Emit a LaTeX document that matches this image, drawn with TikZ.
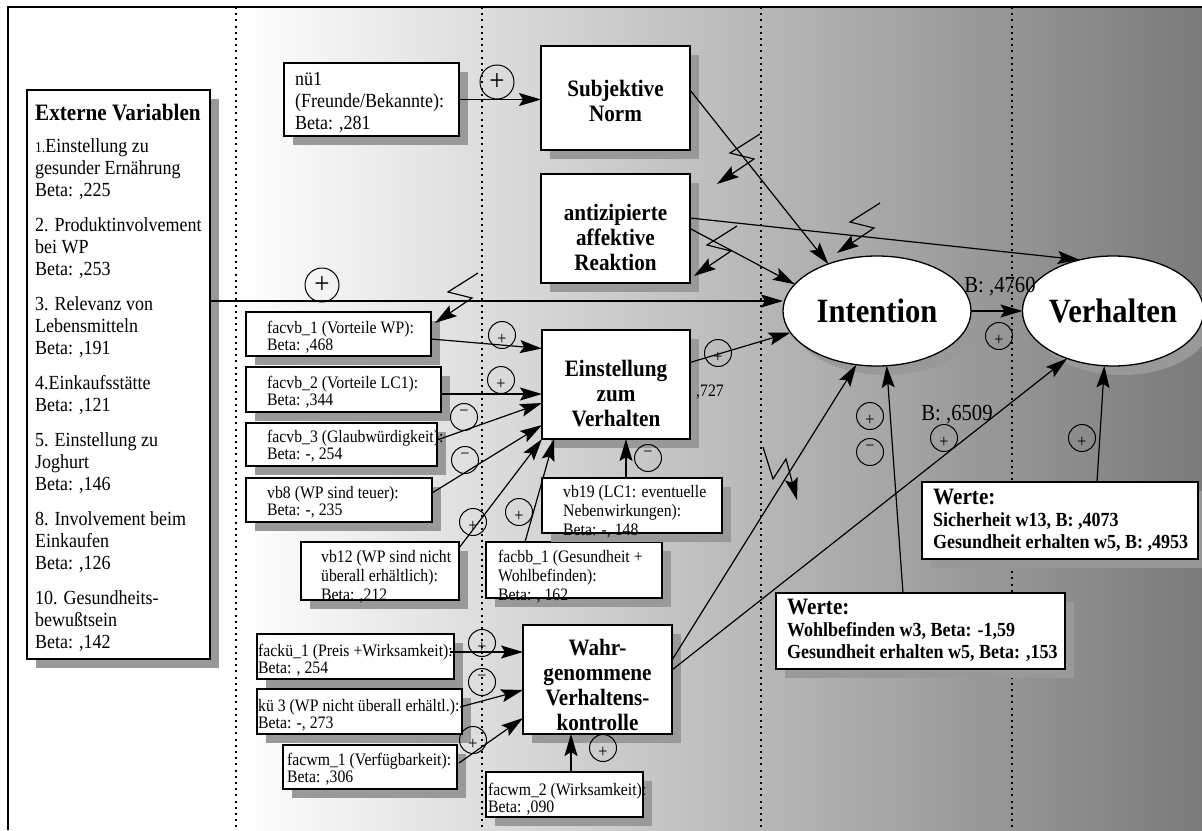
\documentclass[tikz,border=0pt]{standalone}
\usepackage{fontspec}
\setmainfont{Liberation Serif}[FakeStretch=0.9]
\usetikzlibrary{arrows.meta, shapes.geometric, shadows}

\newcommand{\smalltxt}{\fontsize{17.5}{17}\selectfont}
\newcommand{\midtxt}{\fontsize{17.5}{19}\selectfont}
\newcommand{\bodytxt}{\fontsize{20}{22}\selectfont}
\newcommand{\titletxt}{\fontsize{23.5}{25}\selectfont\bfseries}
\newcommand{\bigtxt}{\fontsize{34}{36}\selectfont\bfseries}

\begin{document}
\begin{tikzpicture}[x=1pt, y=-1pt,
	box/.style={draw, fill=white, line width=1.3pt, inner sep=0pt, outer sep=0pt,
		drop shadow={shadow xshift=9pt, shadow yshift=-9pt, fill=black!40, opacity=1}},
	ell/.style={box, ellipse, font=\bigtxt},
	lbl/.style={anchor=west, align=left, inner sep=0pt, font=\smalltxt},
	ttl/.style={align=center, inner sep=0pt, font=\titletxt},
	arr/.style={-{Stealth[length=22pt, width=13pt, inset=4pt]}, line width=1.2pt},
	sep/.style={line width=2pt, dash pattern=on 2pt off 4.2pt},
	sgn/.style={circle, draw, line width=1pt, minimum size=27pt, inner sep=0pt, font=\fontsize{18}{18}\selectfont},
	pl/.style={sgn, text height=19pt, text depth=0pt, node contents={+}},
	mi/.style={sgn, text height=0pt, text depth=1pt, node contents={−}},
	bigsgn/.style={circle, draw, line width=1pt, minimum size=34pt, inner sep=0pt, font=\fontsize{30}{30}\selectfont}]

	\useasboundingbox (0,0) rectangle (1202,830);
	
	% background and frame
	\shade[left color=white, right color=black!52] (236,7) rectangle (1202,830);
	\draw[line width=1.5pt] (8,830) -- (8,7) -- (1202,7);
	\foreach \x in {236,482,761,1012}
		\draw[sep] (\x,7) -- (\x,830);
	
	% boxes
	\foreach \nm/\xa/\ya/\xb/\yb in {ext/27/90/210/659, nue/284/63/459/136,
		norm/541/46/690/150, anti/541/174/690/283, einst/542/330/690/439,
		wahr/523/625/672/734, fvb1/246/312/431/356, fvb2/246/367/441/412,
		fvb3/246/423/437/466, vb8/246/478/432/522, vb12/301/542/459/600,
		fbb1/486/542/662/598, vb19/542/478/722/533, fku1/257/634/454/679,
		ku3/257/689/462/734, fwm1/283/745/457/789, fwm2/486/772/643/817,
		werte1/776/593/1065/669, werte2/922/482/1198/559}
	{
		\node[box, minimum width={\xb-\xa}, minimum height={\yb-\ya}] (\nm)
			at ({(\xa+\xb)/2},{(\ya+\yb)/2}) {};
	}
	
	\node[anchor=north west, align=left, inner sep=0pt, font=\bodytxt] (extt) at (35,104)
		{{\titletxt Externe Variablen}\\[9.6pt]
		{\fontsize{15}{22}\selectfont 1.}Einstellung zu\\gesunder Ernährung\\Beta: ,225\\[13pt]
		2. Produktinvolvement\\bei WP\\Beta: ,253\\[13pt]
		3. Relevanz von\\Lebensmitteln\\Beta: ,191\\[13pt]
		4.Einkaufsstätte\\Beta: ,121\\[13pt]
		5. Einstellung zu\\Joghurt\\Beta: ,146\\[13pt]
		8. Involvement beim\\Einkaufen\\Beta: ,126\\[13pt]
		10. Gesundheits-\\bewußtsein\\Beta: ,142};
	
	\node[lbl, font=\bodytxt] (nuet) at (295,102) {nü1\\(Freunde/Bekannte):\\Beta: ,281};
	\node[ttl] (normt) at (615.5,100.5) {Subjektive\\Norm};
	\node[ttl] (antit) at (615.5,237.5) {antizipierte\\affektive\\Reaktion};
	\node[ttl] (einstt) at (616,394) {Einstellung\\zum\\Verhalten};
	\node[ttl] (wahrt) at (597.5,684.5) {Wahr-\\genommene\\Verhaltens-\\kontrolle};
	
	\node[lbl] (fvb1t) at (267,337.5) {facvb\_1 (Vorteile WP):\\Beta: ,468};
	\node[lbl] (fvb2t) at (267,392.5) {facvb\_2 (Vorteile LC1):\\Beta: ,344};
	\node[lbl] (fvb3t) at (267,446.5) {facvb\_3 (Glaubwürdigkeit):\\Beta: -, 254};
	\node[lbl] (vb8t) at (267,502.5) {vb8 (WP sind teuer):\\Beta: -, 235};
	\node[lbl, font=\midtxt] (vb12t) at (321,577) {vb12 (WP sind nicht\\überall erhältlich):\\Beta: ,212};
	\node[lbl, font=\midtxt] (fbb1t) at (498,577) {facbb\_1 (Gesundheit +\\Wohlbefinden):\\Beta: , 162};
	\node[lbl, font=\midtxt] (vb19t) at (563,511.5) {vb19 (LC1: eventuelle\\Nebenwirkungen):\\Beta: -, 148};
	\node[lbl] (fku1t) at (258,660.5) {fackü\_1 (Preis +Wirksamkeit):\\Beta: , 254};
	\node[lbl] (ku3t) at (258,715.5) {kü 3 (WP nicht überall erhältl.):\\Beta: -, 273};
	\node[lbl] (fwm1t) at (287,769.5) {facwm\_1 (Verfügbarkeit):\\Beta: ,306};
	\node[lbl] (fwm2t) at (488,799) {facwm\_2 (Wirksamkeit):\\Beta: ,090};
	
	\node[lbl, font=\bodytxt\bfseries] (werte1t) at (787,630.5)
		{{\fontsize{23.5}{22}\selectfont Werte:}\\Wohlbefinden w3, Beta: -1,59\\Gesundheit erhalten w5, Beta: ,153};
	\node[lbl, font=\bodytxt\bfseries] (werte2t) at (933,520)
		{{\fontsize{23.5}{22}\selectfont Werte:}\\Sicherheit w13, B: ,4073\\Gesundheit erhalten w5, B: ,4953};
	
	\node[ell, minimum width=188pt, minimum height=110pt] (int) at (877,311) {Intention};
	\node[ell, minimum width=162pt, minimum height=110pt] (verh) at (1113,311) {Verhalten};
	
	% connectors
	\draw[arr] (ext.east |- 0,301) -- (int.west |- 0,301);
	\draw[arr] (nue.east) -- (nue.east -| norm.west);
	\draw[arr] ([shift={(0,-8)}]norm.east) -- (int.136);
	\draw[arr] ([shift={(0,-10.5)}]anti.east) -- (verh.123);
	\draw[arr] (anti.east) -- (int.162);
	\draw[arr] ([shift={(0,-22)}]einst.east) -- (int.194);
	\draw[arr] (int.east) -- (verh.west);
	\draw[arr] ([shift={(0,5)}]fvb1.east) -- ([shift={(0,-36)}]einst.west);
	\draw[arr] ([shift={(0,4.5)}]fvb2.east) -- ([shift={(0,9.5)}]einst.west);
	\draw[arr] ([shift={(0,-4.5)}]fvb3.east) -- ([shift={(0,18.5)}]einst.west);
	\draw[arr] ([shift={(0,-7)}]vb8.east) -- ([shift={(0,40.5)}]einst.west);
	\draw[arr] ([shift={(0,6)}]vb12.north east) -- (einst.south west);
	\draw[arr] ([shift={(39,0)}]fbb1.north west) -- ([shift={(12,0)}]einst.south west);
	\draw[arr] ([shift={(-6,0)}]vb19.north) -- ([shift={(-6,0)}]vb19.north |- einst.south);
	\draw[arr] ([shift={(-4,-4.5)}]fku1.east) -- ([shift={(0,-27.5)}]wahr.west);
	\draw[arr] ([shift={(-2,-4.5)}]ku3.east) -- ([shift={(0,10.5)}]wahr.west);
	\draw[arr] ([shift={(2,-4)}]fwm1.east) -- ([shift={(0,38.5)}]wahr.west);
	\draw[arr] ([shift={(6.5,0)}]fwm2.north) -- ([shift={(6.5,0)}]fwm2.north |- wahr.south);
	\draw[arr] ([shift={(0,-19.5)}]wahr.east) -- (int.249);
	\draw[arr] ([shift={(0,-9.5)}]wahr.east) -- (verh.226);
	\draw[arr] ([shift={(-17.5,0)}]werte1.north) -- (int.280);
	\draw[arr] ([shift={(37,0)}]werte2.north) -- (verh.261);
	
	% zigzag arrows
	\foreach \x/\y in {760/134, 737/226, 880/203, 478/273}
		\draw[arr] (\x,\y) -- ++(-30,19) -- ++(24,6) -- ++(-37,25);
	\draw[arr] (763,447) -- (773,479) -- (786,459) -- (797,500);
	
	% signs
	\node[bigsgn] (big1) at (497,82) {+};
	\node[bigsgn] (big2) at (322,285) {+};
	\foreach \x/\y/\s [count=\i] in {502/335/pl, 501/380/pl, 464/417/mi, 465/460/mi,
		473/522/pl, 519/512/pl, 648/458/mi, 718/353/pl, 482/643/pl, 482/682/mi,
		473/740/pl, 603/748/pl, 999/336/pl, 870/416/pl, 870/452/mi, 944/438/pl, 1082/438/pl}
		\node (s\i) at (\x,\y) [\s];
	
	\node[inner sep=0pt, font=\smalltxt] (c727) at (710,392) {,727};
	\node[inner sep=0pt, font=\fontsize{23}{23}\selectfont] (b4760) at (1000,287) {B: ,4760};
	\node[inner sep=0pt, font=\fontsize{23}{23}\selectfont] (b6509) at (957,415) {B: ,6509};
\end{tikzpicture}
\end{document}
